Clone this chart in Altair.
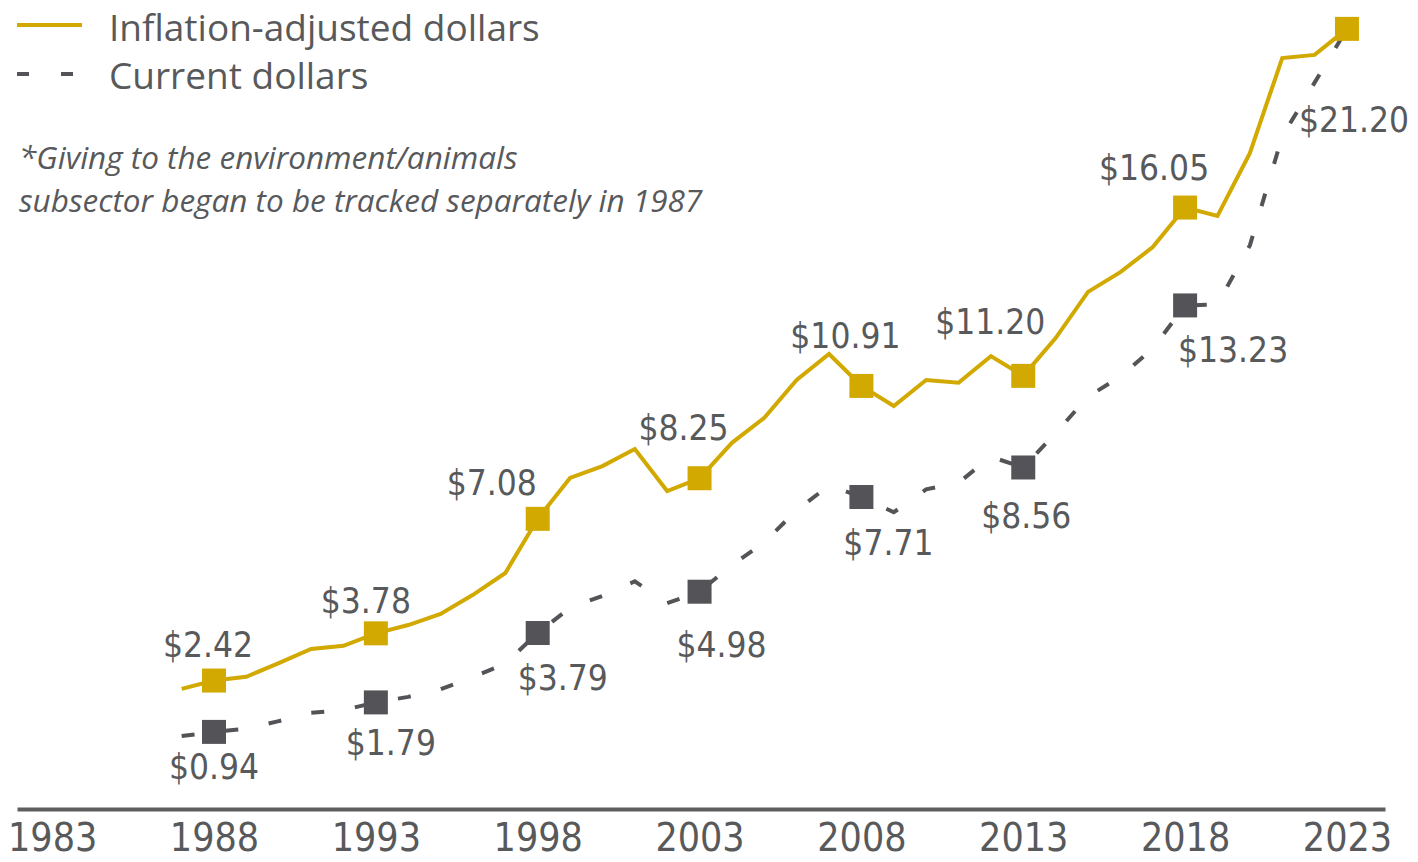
import altair as alt
import pandas as pd

# ---------------- data ----------------
years = list(range(1987, 2024))
inflation_adjusted = [2.18, 2.42, 2.53, 2.92, 3.33, 3.42, 3.78, 4.02, 4.34, 4.89,
                      5.52, 7.08, 8.26, 8.60, 9.09, 7.88, 8.25, 9.27, 9.99, 11.08,
                      11.83, 10.91, 10.33, 11.08, 11.00, 11.77, 11.20, 12.29, 13.62,
                      14.19, 14.91, 16.05, 15.81, 17.62, 20.36, 20.45, 21.20]
current_dollars = [0.82, 0.94, 1.03, 1.25, 1.49, 1.57, 1.79, 1.95, 2.17, 2.52,
                   2.91, 3.79, 4.52, 4.86, 5.28, 4.65, 4.98, 5.75, 6.40, 7.33,
                   8.04, 7.71, 7.27, 7.93, 8.12, 8.87, 8.56, 9.55, 10.60, 11.18,
                   11.99, 13.23, 13.26, 14.96, 18.10, 19.65, 21.20]
marker_years = [1988, 1993, 1998, 2003, 2008, 2013, 2018, 2023]
series_names = ["Inflation-adjusted dollars", "Current dollars"]
tick_years = [1983, 1988, 1993, 1998, 2003, 2008, 2013, 2018, 2023]
note_lines = ["*Giving to the environment/animals",
              "subsector began to be tracked separately in 1987"]

GOLD = "#D2A900"
DARK = "#545458"
TEXT = "#58595B"
NARROW = "DejaVu Sans Condensed, sans-serif"
SANS = "Open Sans, sans-serif"

inf_df = pd.DataFrame({"year": years, "value": inflation_adjusted, "series": series_names[0]})
cur_df = pd.DataFrame({"year": years, "value": current_dollars, "series": series_names[1]})
inf_mk = inf_df[inf_df.year.isin(marker_years)]
cur_mk = cur_df[cur_df.year.isin(marker_years)]
legend_df = pd.DataFrame({"series": series_names})
one = pd.DataFrame({"k": [0]})

xs = alt.Scale(domain=[1981.914, 2024.175], nice=False, zero=False)
ys = alt.Scale(domain=[-1.282, 21.225], nice=False, zero=False)

X = alt.X("year:Q", scale=xs,
          axis=alt.Axis(values=tick_years, format="d", title=None, grid=False, ticks=False,
                        labelFont=NARROW, labelFontSize=39, labelColor=TEXT,
                        labelPadding=10, labelFlush=False, labelOverlap=False,
                        domainColor="#5E5E5E", domainWidth=4))
Y = alt.Y("value:Q", scale=ys, axis=None)

cur_line = alt.Chart(cur_df).mark_line(color=DARK, strokeWidth=4, strokeDash=[13, 31]).encode(x=X, y=Y)
cur_pts = alt.Chart(cur_mk[cur_mk.year < 2023]).mark_point(shape="square", filled=True, size=576,
                                                           color=DARK, opacity=1).encode(x=X, y=Y)
inf_line = alt.Chart(inf_df).mark_line(color=GOLD, strokeWidth=4).encode(x=X, y=Y)
inf_pts = alt.Chart(inf_mk).mark_point(shape="square", filled=True, size=576,
                                       color=GOLD, opacity=1).encode(x=X, y=Y)

# label offsets (style) per series/year
inf_off = {1988: (-6, -24), 1993: (-10, -20), 1998: (-46, -24), 2003: (-16, -38),
           2008: (-16, -38), 2013: (-33, -42), 2018: (-31, -28), 2023: (7, 103)}
cur_off = {1988: (0, 47), 1993: (15, 53), 1998: (25, 57), 2003: (22, 65),
           2008: (27, 58), 2013: (3, 61), 2018: (48, 57)}

labels = []
for df, offs in ((inf_mk, inf_off), (cur_mk, cur_off)):
    for yr, (dx, dy) in offs.items():
        labels.append(
            alt.Chart(df[df.year == yr]).mark_text(font=NARROW, fontSize=35, color=TEXT,
                                                   align="center", baseline="alphabetic",
                                                   dx=dx, dy=dy)
            .encode(x=X, y=Y, text=alt.Text("value:Q", format="$.2f"))
        )

# legend
leg_rule1 = alt.Chart(legend_df[legend_df.series == series_names[0]]).mark_rule(
    color=GOLD, strokeWidth=4).encode(x=alt.value(0), x2=alt.value(65), y=alt.value(-3))
leg_rule2 = alt.Chart(legend_df[legend_df.series == series_names[1]]).mark_rule(
    color=DARK, strokeWidth=4, strokeDash=[12, 32]).encode(x=alt.value(0), x2=alt.value(65), y=alt.value(46))
leg_txt1 = alt.Chart(legend_df[legend_df.series == series_names[0]]).mark_text(
    font=SANS, fontSize=37, color=TEXT, align="left", baseline="alphabetic").encode(
    x=alt.value(92), y=alt.value(13), text="series:N")
leg_txt2 = alt.Chart(legend_df[legend_df.series == series_names[1]]).mark_text(
    font=SANS, fontSize=37, color=TEXT, align="left", baseline="alphabetic").encode(
    x=alt.value(92), y=alt.value(61), text="series:N")

note = alt.Chart(one).mark_text(font=SANS, fontSize=31.5, fontStyle="italic", color=TEXT,
                                align="left", baseline="alphabetic", lineHeight=43).encode(
    x=alt.value(2), y=alt.value(141), text=alt.value(note_lines))

chart = alt.layer(cur_line, cur_pts, inf_line, inf_pts, *labels,
                  leg_rule1, leg_rule2, leg_txt1, leg_txt2, note).properties(
    width=1368, height=781,
    autosize=alt.AutoSizeParams(type="none"),
    padding={"left": 9, "top": 20, "right": 25, "bottom": 51},
    background="white",
).configure_view(stroke=None)

chart.save("out.html", embed_options={"renderer": "svg", "actions": False})
